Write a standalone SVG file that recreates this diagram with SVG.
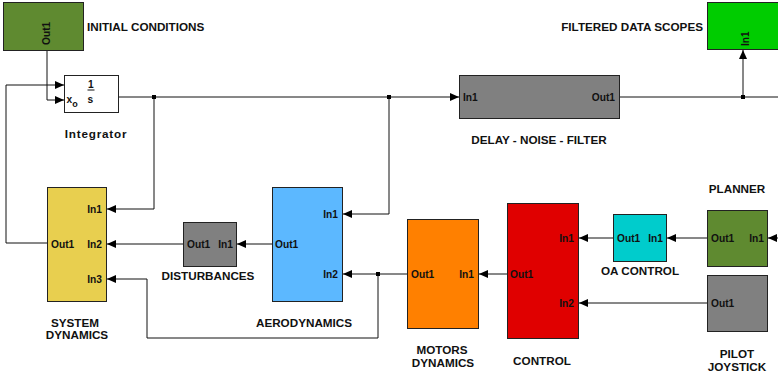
<svg xmlns="http://www.w3.org/2000/svg" width="778" height="377" viewBox="0 0 778 377">
<style>
.b{stroke:#222;stroke-width:1}
.t{font-family:"Liberation Sans",Arial,sans-serif;font-weight:bold;font-size:11.7px;fill:#111}
.p{font-family:"Liberation Sans",Arial,sans-serif;font-weight:bold;font-size:10.2px;fill:#111}
.w{fill:none;stroke:#111;stroke-width:1}
</style>
<defs>
<marker id="a" markerUnits="userSpaceOnUse" markerWidth="10" markerHeight="10" refX="9" refY="5" orient="auto"><path d="M0,1 L9,5 L0,9 Z" fill="#000"/></marker>
</defs>
<rect width="778" height="377" fill="#fff"/>
<g id="connectors">
<path class="w" d="M47,51 V100 H64" marker-end="url(#a)"/>
<path class="w" d="M47,243 H6 V85 H64" marker-end="url(#a)"/>
<path class="w" d="M119,97 H459" marker-end="url(#a)"/>
<path class="w" d="M154,97 V209 H107" marker-end="url(#a)"/>
<path class="w" d="M389,97 V214 H343" marker-end="url(#a)"/>
<path class="w" d="M620,97 H778"/>
<path class="w" d="M743,97 V50" marker-end="url(#a)"/>
<path class="w" d="M272,244 H237" marker-end="url(#a)"/>
<path class="w" d="M183,244 H107" marker-end="url(#a)"/>
<path class="w" d="M407,274 H343" marker-end="url(#a)"/>
<path class="w" d="M378,274 V338 H147 V279 H107" marker-end="url(#a)"/>
<path class="w" d="M507,274 H479" marker-end="url(#a)"/>
<path class="w" d="M613,238 H579" marker-end="url(#a)"/>
<path class="w" d="M707,238 H667" marker-end="url(#a)"/>
<path class="w" d="M778,238 H768" marker-end="url(#a)"/>
<path class="w" d="M707,303 H579" marker-end="url(#a)"/>
<rect x="152" y="95" width="4" height="4" fill="#000"/>
<rect x="387" y="95" width="4" height="4" fill="#000"/>
<rect x="741" y="95" width="4" height="4" fill="#000"/>
<rect x="376" y="272" width="4" height="4" fill="#000"/>
</g>
<g id="initial-conditions">
<rect class="b" x="3.5" y="2.5" width="80" height="48" fill="#5f8a30"/>
<text class="p" transform="translate(50,45) rotate(-90)">Out1</text>
<text class="t" x="87" y="31">INITIAL CONDITIONS</text>
</g>
<g id="integrator">
<rect class="b" x="64.5" y="75.5" width="54" height="37" fill="#fff"/>
<text class="p" x="88" y="88" font-size="11">1</text>
<line x1="87.5" y1="90" x2="94.5" y2="90" stroke="#111"/>
<text class="p" x="87.5" y="103" font-size="11">s</text>
<text class="p" x="66.5" y="103" font-size="11">x<tspan font-size="9" dy="4">o</tspan></text>
<text class="t" x="96" y="138" text-anchor="middle" letter-spacing="0.8">Integrator</text>
</g>
<g id="delay-noise-filter">
<rect class="b" x="459.5" y="75.5" width="160" height="43" fill="#808080"/>
<text class="p" x="463" y="100.5">In1</text>
<text class="p" x="615" y="100.5" text-anchor="end">Out1</text>
<text class="t" x="539" y="144" text-anchor="middle">DELAY - NOISE - FILTER</text>
</g>
<g id="filtered-data-scopes">
<rect class="b" x="707.5" y="2.5" width="75" height="47" fill="#00cc00"/>
<text class="p" transform="translate(749,46) rotate(-90)">In1</text>
<text class="t" x="703" y="31" text-anchor="end">FILTERED DATA SCOPES</text>
</g>
<g id="system-dynamics">
<rect class="b" x="47.5" y="187.5" width="59" height="114" fill="#e8cf4f"/>
<text class="p" x="102" y="213" text-anchor="end">In1</text>
<text class="p" x="102" y="248" text-anchor="end">In2</text>
<text class="p" x="102" y="283" text-anchor="end">In3</text>
<text class="p" x="51" y="248">Out1</text>
<text class="t" x="75" y="327" text-anchor="middle">SYSTEM</text>
<text class="t" x="77" y="339" text-anchor="middle">DYNAMICS</text>
</g>
<g id="disturbances">
<rect class="b" x="183.5" y="222.5" width="53" height="44" fill="#808080"/>
<text class="p" x="187" y="248">Out1</text>
<text class="p" x="233" y="248" text-anchor="end">In1</text>
<text class="t" x="208" y="280" text-anchor="middle">DISTURBANCES</text>
</g>
<g id="aerodynamics">
<rect class="b" x="272.5" y="187.5" width="70" height="114" fill="#5cb8ff"/>
<text class="p" x="338" y="218" text-anchor="end">In1</text>
<text class="p" x="338" y="278" text-anchor="end">In2</text>
<text class="p" x="275" y="248">Out1</text>
<text class="t" x="304" y="327" text-anchor="middle">AERODYNAMICS</text>
</g>
<g id="motors-dynamics">
<rect class="b" x="407.5" y="219.5" width="71" height="109" fill="#ff8000"/>
<text class="p" x="411" y="278">Out1</text>
<text class="p" x="474" y="278" text-anchor="end">In1</text>
<text class="t" x="442" y="354" text-anchor="middle">MOTORS</text>
<text class="t" x="443" y="367" text-anchor="middle">DYNAMICS</text>
</g>
<g id="control">
<rect class="b" x="507.5" y="203.5" width="71" height="135" fill="#e00000"/>
<text class="p" x="574" y="242" text-anchor="end">In1</text>
<text class="p" x="574" y="307" text-anchor="end">In2</text>
<text class="p" x="510" y="278">Out1</text>
<text class="t" x="542" y="365" text-anchor="middle">CONTROL</text>
</g>
<g id="oa-control">
<rect class="b" x="613.5" y="214.5" width="53" height="47" fill="#00cccc"/>
<text class="p" x="617" y="242">Out1</text>
<text class="p" x="663" y="242" text-anchor="end">In1</text>
<text class="t" x="640" y="275" text-anchor="middle">OA CONTROL</text>
</g>
<g id="planner">
<rect class="b" x="707.5" y="210.5" width="60" height="56" fill="#5f8a30"/>
<text class="p" x="711" y="242">Out1</text>
<text class="p" x="764" y="242" text-anchor="end">In1</text>
<text class="t" x="737" y="193" text-anchor="middle">PLANNER</text>
</g>
<g id="pilot-joystick">
<rect class="b" x="707.5" y="275.5" width="60" height="56" fill="#808080"/>
<text class="p" x="711" y="307">Out1</text>
<text class="t" x="737" y="358" text-anchor="middle">PILOT</text>
<text class="t" x="737" y="371" text-anchor="middle">JOYSTICK</text>
</g>
</svg>
